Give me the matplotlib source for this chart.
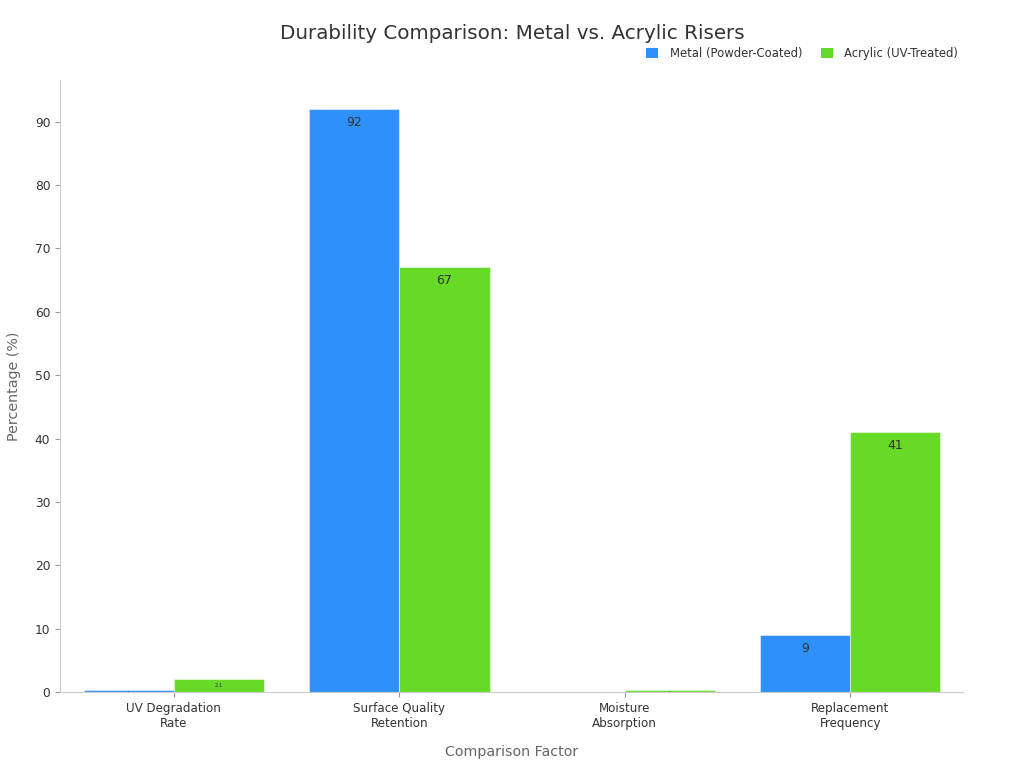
import matplotlib
matplotlib.use("Agg")
import matplotlib.pyplot as plt
import numpy as np

categories = ["UV Degradation\nRate", "Surface Quality\nRetention", "Moisture\nAbsorption", "Replacement\nFrequency"]
metal = [0.3, 92, 0.0, 9]
acrylic = [2.1, 67, 0.3, 41]
series_names = ["Metal (Powder-Coated)", "Acrylic (UV-Treated)"]

blue = "#2E90FA"
green = "#66DA26"
text_c = "#333333"
grid_c = "#CCCCCC"

fig = plt.figure(figsize=(10.24, 7.68), dpi=100)
ax = fig.add_axes([0.0586, 0.099, 0.8818, 0.797])

x = np.arange(len(categories))
w = 0.4
b1 = ax.bar(x - w/2, metal, w, color=blue, edgecolor=(1, 1, 1, 0.45), linewidth=0.8, label=series_names[0])
b2 = ax.bar(x + w/2, acrylic, w, color=green, edgecolor=(1, 1, 1, 0.45), linewidth=0.8, label=series_names[1])

ymax = 96.6
ax.set_ylim(0, ymax)
ax.set_xlim(-0.505, 3.5)

for bars, vals in ((b1, metal), (b2, acrylic)):
    for r, v in zip(bars, vals):
        if v <= 0:
            continue
        cx = r.get_x() + r.get_width()/2
        if v >= 5:
            ax.annotate(f"{v:g}", (cx, v), xytext=(0, -9.5), textcoords="offset points",
                        ha="center", va="center", fontsize=9, color=text_c)
        else:
            fs = max(1.0, v * 1.8)
            ax.annotate(f"{v:g}", (cx, v / 2), ha="center", va="center", fontsize=fs, color=text_c)

ax.set_xticks(x)
ax.set_xticklabels(categories, fontsize=8.6, color=text_c)
ax.set_yticks(np.arange(0, 91, 10))
ax.tick_params(axis="y", labelsize=8.8, colors=text_c)
ax.tick_params(axis="both", color="#999999")
for s in ("top", "right"):
    ax.spines[s].set_visible(False)
for s in ("left", "bottom"):
    ax.spines[s].set_color(grid_c)

ax.set_xlabel("Comparison Factor", fontsize=10.3, color="#666666", labelpad=11)
ax.set_ylabel("Percentage (%)", fontsize=10.3, color="#666666", labelpad=10)

fig.text(0.5, 0.956, "Durability Comparison: Metal vs. Acrylic Risers", ha="center", va="center",
         fontsize=14.3, color=text_c)
leg = fig.legend(handles=[b1, b2], loc="center right", bbox_to_anchor=(0.946, 0.930), ncol=2,
           frameon=False, fontsize=8.4, handlelength=1.0, handleheight=1.0, columnspacing=1.6,
           handletextpad=1.0)
for t in leg.get_texts():
    t.set_color(text_c)
for h in leg.legend_handles:
    h.set_edgecolor("none")

fig.savefig("out.png", dpi=100)
